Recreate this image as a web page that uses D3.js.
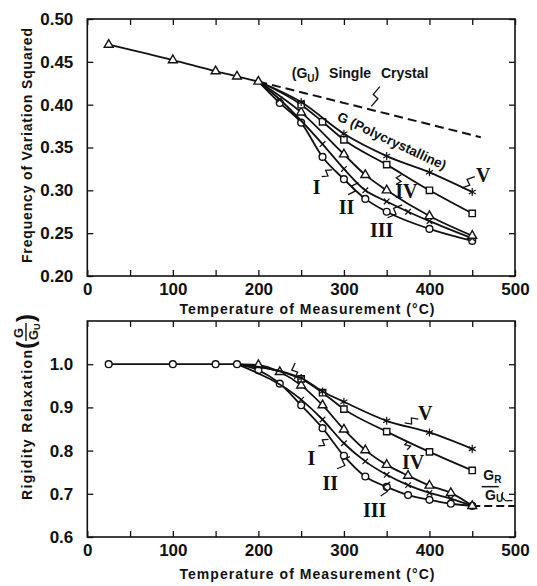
<!DOCTYPE html>
<html>
<head>
<meta charset="utf-8">
<script src="https://cdn.jsdelivr.net/npm/d3@7"></script>
<style>
body { margin: 0; background: #fff; }
svg text { font-family: "Liberation Sans", Arial, sans-serif; font-weight: bold; fill: #111; }
.tick text { font-size: 17px; }
.title { font-size: 14px; }
.roman { font-family: "Liberation Serif", "Times New Roman", serif !important; font-size: 20px; }
</style>
</head>
<body>
<svg id="chart" width="537" height="586"></svg>
<script>
// Temperature (deg C) / value readings taken off the two panels

var xTickLabels = [0, 100, 200, 300, 400, 500];
var topTicks = [0.20, 0.25, 0.30, 0.35, 0.40, 0.45, 0.50];
var botTicks = [0.6, 0.7, 0.8, 0.9, 1.0];

var names = ["I", "II", "III", "IV", "V"];
var markerTypes = ["circle", "times", "triangle", "square", "asterisk"];

// upper panel: frequency of variation squared
var topBaseT = [25, 100, 150, 175, 200];
var topBaseV = [0.470, 0.452, 0.439, 0.433, 0.427];
var topT1 = [200, 225, 250, 275, 300, 325, 350, 400, 450];
var topV1 = [0.427, 0.402, 0.379, 0.339, 0.313, 0.290, 0.275, 0.255, 0.241];
var topT2 = [200, 225, 275, 300, 325, 350, 375, 400, 450];
var topV2 = [0.427, 0.406, 0.354, 0.325, 0.300, 0.287, 0.275, 0.264, 0.244];
var topT3 = [200, 250, 300, 325, 350, 400, 450];
var topV3 = [0.427, 0.391, 0.342, 0.318, 0.300, 0.270, 0.247];
var topT4 = [200, 250, 275, 300, 350, 400, 450];
var topV4 = [0.427, 0.400, 0.380, 0.359, 0.330, 0.300, 0.273];
var topT5 = [200, 250, 300, 350, 400, 450];
var topV5 = [0.427, 0.403, 0.366, 0.340, 0.321, 0.298];
var crystalT = [200, 460];
var crystalV = [0.427, 0.362];

// lower panel: rigidity relaxation G/Gu
var botBaseT = [25, 100, 150, 175];
var botBaseV = [1.0, 1.0, 1.0, 1.0];
var botT1 = [175, 200, 225, 250, 275, 300, 325, 350, 375, 400, 425, 450];
var botV1 = [1.0, 0.986, 0.955, 0.905, 0.852, 0.788, 0.740, 0.716, 0.697, 0.686, 0.677, 0.672];
var botT2 = [175, 250, 275, 300, 325, 350, 375, 400, 425, 450];
var botV2 = [1.0, 0.918, 0.872, 0.817, 0.775, 0.744, 0.720, 0.702, 0.689, 0.672];
var botT3 = [175, 200, 225, 250, 275, 300, 325, 350, 375, 400, 425, 450];
var botV3 = [1.0, 0.998, 0.982, 0.951, 0.905, 0.849, 0.801, 0.767, 0.742, 0.719, 0.702, 0.672];
var botT4 = [175, 250, 275, 300, 350, 400, 450];
var botV4 = [1.0, 0.966, 0.934, 0.896, 0.844, 0.797, 0.754];
var botT5 = [175, 250, 275, 300, 350, 400, 450];
var botV5 = [1.0, 0.968, 0.937, 0.913, 0.869, 0.842, 0.804];
var unrelaxedT = [450, 500];
var unrelaxedV = [0.672, 0.672];

var zip = function(a, b) { return a.map(function(d, i) { return [d, b[i]]; }); };

var svg = d3.select("#chart");
var x = d3.scaleLinear().domain([0, 500]).range([87.3, 515]);
var yTop = d3.scaleLinear().domain([0.20, 0.50]).range([276, 19]);
var yBot = d3.scaleLinear().domain([0.6, 1.1]).range([537, 321]);

function symbolFor(t) {
	if (t == "circle") return d3.symbol().type(d3.symbolCircle).size(36);
	if (t == "triangle") return d3.symbol().type(d3.symbolTriangle).size(34);
	if (t == "square") return d3.symbol().type(d3.symbolSquare).size(40);
	if (t == "times") return d3.symbol().type(d3.symbolTimes || d3.symbolCross).size(22);
	return d3.symbol().type(d3.symbolAsterisk || d3.symbolCross).size(45);
}

function frame(y, ticks, fmt) {
	var g = svg.append("g").style("color", "#111");
	var y0 = y.range()[0], y1 = y.range()[1];
	g.append("rect")
		.attr("x", x(0)).attr("y", y1)
		.attr("width", x(500) - x(0)).attr("height", y0 - y1)
		.attr("fill", "none").attr("stroke", "#111").attr("stroke-width", 1.6);
	g.append("g").attr("transform", "translate(0," + y0 + ")")
		.call(d3.axisBottom(x).tickValues(d3.range(0, 501, 50)).tickSize(-6).tickPadding(7)
			.tickFormat(function(d) { return xTickLabels.indexOf(d) >= 0 ? d : ""; }));
	g.append("g").attr("transform", "translate(0," + y1 + ")")
		.call(d3.axisTop(x).tickValues(d3.range(0, 501, 50)).tickSize(-6).tickFormat(""));
	g.append("g").attr("transform", "translate(" + x(0) + ",0)")
		.call(d3.axisLeft(y).tickValues(ticks).tickSize(-6).tickPadding(14).tickFormat(fmt));
	g.append("g").attr("transform", "translate(" + x(500) + ",0)")
		.call(d3.axisRight(y).tickValues(ticks).tickSize(-6).tickFormat(""));
	g.selectAll(".domain").remove();
	g.selectAll(".tick line").attr("stroke-width", 1.3);
}

function series(y, pts, type, skipFirst) {
	var line = d3.line().x(function(d) { return x(d[0]); }).y(function(d) { return y(d[1]); })
		.curve(d3.curveMonotoneX);
	svg.append("path").datum(pts).attr("d", line)
		.attr("fill", "none").attr("stroke", "#111").attr("stroke-width", 1.8);
	var stroked = (type == "times" || type == "asterisk");
	svg.append("g").selectAll("path").data(skipFirst ? pts.slice(1) : pts).enter().append("path")
		.attr("transform", function(d) { return "translate(" + x(d[0]) + "," + y(d[1]) + ")"; })
		.attr("d", symbolFor(type))
		.attr("fill", stroked ? "none" : "#fff")
		.attr("stroke", "#111").attr("stroke-width", stroked ? 1.2 : 1.4);
}

// little lightning-bolt leaders that tie a label to its curve
function squiggle(y, a, b) {
	var x1 = x(a[0]), y1 = y(a[1]), x2 = x(b[0]), y2 = y(b[1]);
	var dx = x2 - x1, dy = y2 - y1, len = Math.sqrt(dx * dx + dy * dy);
	var px = -dy / len * 3, py = dx / len * 3;
	var p = d3.path();
	p.moveTo(x1, y1);
	p.lineTo(x1 + dx * 0.45 + px, y1 + dy * 0.45 + py);
	p.lineTo(x1 + dx * 0.55 - px, y1 + dy * 0.55 - py);
	p.lineTo(x2, y2);
	svg.append("path").attr("d", p.toString()).attr("fill", "none")
		.attr("stroke", "#111").attr("stroke-width", 1.3);
}

function roman(y, t, v, label) {
	svg.append("text").attr("class", "roman")
		.attr("x", x(t)).attr("y", y(v)).attr("dy", "0.35em")
		.attr("text-anchor", "middle").text(label);
}

// ---------- upper panel ----------
frame(yTop, topTicks, d3.format(".2f"));

svg.append("path").datum(zip(crystalT, crystalV))
	.attr("d", d3.line().x(function(d) { return x(d[0]); }).y(function(d) { return yTop(d[1]); }))
	.attr("fill", "none").attr("stroke", "#111").attr("stroke-width", 2)
	.attr("stroke-dasharray", "9,5");

var topT = [topT1, topT2, topT3, topT4, topT5];
var topV = [topV1, topV2, topV3, topV4, topV5];
topT.forEach(function(t, i) { series(yTop, zip(t, topV[i]), markerTypes[i], true); });
series(yTop, zip(topBaseT, topBaseV), "triangle", false);

var sc = svg.append("text").attr("class", "title")
	.attr("x", x(239)).attr("y", yTop(0.431)).style("word-spacing", "6px");
sc.append("tspan").text("(G");
sc.append("tspan").attr("dy", 4).style("font-size", "10px").text("U");
sc.append("tspan").attr("dy", -4).text(")  Single  Crystal");
squiggle(yTop, [342, 0.421], [332, 0.398]);

svg.append("text").attr("class", "title")
	.attr("transform", "translate(" + x(291) + "," + yTop(0.382) + ") rotate(25)")
	.style("font-size", "13.5px")
	.text("G (Polycrystalline)");

roman(yTop, 268, 0.304, names[0]);
squiggle(yTop, [274, 0.316], [286, 0.324]);
roman(yTop, 303, 0.281, names[1]);
squiggle(yTop, [305, 0.295], [317, 0.309]);
roman(yTop, 344, 0.254, names[2]);
squiggle(yTop, [351, 0.268], [368, 0.283]);
roman(yTop, 373, 0.299, names[3]);
squiggle(yTop, [361, 0.307], [367, 0.318]);
roman(yTop, 463, 0.318, names[4]);
squiggle(yTop, [453, 0.316], [438, 0.303]);

svg.append("text").attr("class", "title")
	.attr("x", 307).attr("y", 314).attr("text-anchor", "middle")
	.attr("textLength", 255).attr("lengthAdjust", "spacing")
	.text("Temperature of Measurement (°C)");

svg.append("text").attr("class", "title")
	.attr("transform", "translate(32,263) rotate(-90)")
	.attr("textLength", 235).attr("lengthAdjust", "spacing")
	.text("Frequency of Variation Squared");

// ---------- lower panel ----------
frame(yBot, botTicks, d3.format(".1f"));

svg.append("path").datum(zip(unrelaxedT, unrelaxedV))
	.attr("d", d3.line().x(function(d) { return x(d[0]); }).y(function(d) { return yBot(d[1]); }))
	.attr("fill", "none").attr("stroke", "#111").attr("stroke-width", 2)
	.attr("stroke-dasharray", "8,4");

var botT = [botT1, botT2, botT3, botT4, botT5];
var botV = [botV1, botV2, botV3, botV4, botV5];
botT.forEach(function(t, i) { series(yBot, zip(t, botV[i]), markerTypes[i], true); });
series(yBot, zip(botBaseT, botBaseV), "circle", false);

roman(yBot, 262, 0.782, names[0]);
squiggle(yBot, [270, 0.811], [282, 0.826]);
roman(yBot, 284, 0.724, names[1]);
squiggle(yBot, [292, 0.758], [307, 0.786]);
roman(yBot, 336, 0.662, names[2]);
squiggle(yBot, [343, 0.695], [354, 0.727]);
roman(yBot, 381, 0.774, names[3]);
squiggle(yBot, [374, 0.802], [375, 0.822]);
roman(yBot, 395, 0.886, names[4]);
squiggle(yBot, [387, 0.873], [371, 0.864]);
squiggle(yBot, [243, 1.003], [242, 0.965]);

// G_R over G_U tag at the right end
var gr = svg.append("text").attr("class", "title").attr("x", x(463)).attr("y", yBot(0.732));
gr.append("tspan").text("G");
gr.append("tspan").attr("dy", 3).style("font-size", "10px").text("R");
svg.append("line")
	.attr("x1", x(461)).attr("x2", x(481)).attr("y1", yBot(0.7165)).attr("y2", yBot(0.7165))
	.attr("stroke", "#111").attr("stroke-width", 1.5);
var gu = svg.append("text").attr("class", "title").attr("x", x(465)).attr("y", yBot(0.685));
gu.append("tspan").text("G");
gu.append("tspan").attr("dy", 2).style("font-size", "10px").text("U");
// small brace that ties the tag to the dashed line
var bp = d3.path();
bp.moveTo(x(486), yBot(0.704));
bp.quadraticCurveTo(x(483), yBot(0.694), x(487), yBot(0.688));
bp.quadraticCurveTo(x(489), yBot(0.682), x(492), yBot(0.684));
bp.lineTo(x(497), yBot(0.684));
svg.append("path").attr("d", bp.toString()).attr("fill", "none")
	.attr("stroke", "#111").attr("stroke-width", 1.3);

svg.append("text").attr("class", "title")
	.attr("x", 307).attr("y", 579).attr("text-anchor", "middle")
	.attr("textLength", 255).attr("lengthAdjust", "spacing")
	.text("Temperature of Measurement (°C)");

var yl = svg.append("g").attr("transform", "translate(32,500) rotate(-90)");
yl.append("text").attr("class", "title")
	.attr("textLength", 150).attr("lengthAdjust", "spacing")
	.text("Rigidity Relaxation");
yl.append("text").attr("class", "title").attr("x", 151).attr("y", 2).style("font-size", "24px").text("(");
yl.append("text").attr("class", "title").attr("x", 167).attr("y", -9).attr("text-anchor", "middle")
	.style("font-size", "13px").text("G");
yl.append("line").attr("x1", 159).attr("x2", 177).attr("y1", -6).attr("y2", -6)
	.attr("stroke", "#111").attr("stroke-width", 1.4);
var gy = yl.append("text").attr("class", "title").attr("x", 160).attr("y", 6).style("font-size", "13px");
gy.append("tspan").text("G");
gy.append("tspan").attr("dy", 2).style("font-size", "9px").text("U");
yl.append("text").attr("class", "title").attr("x", 178).attr("y", 2).style("font-size", "24px").text(")");
</script>
</body>
</html>
